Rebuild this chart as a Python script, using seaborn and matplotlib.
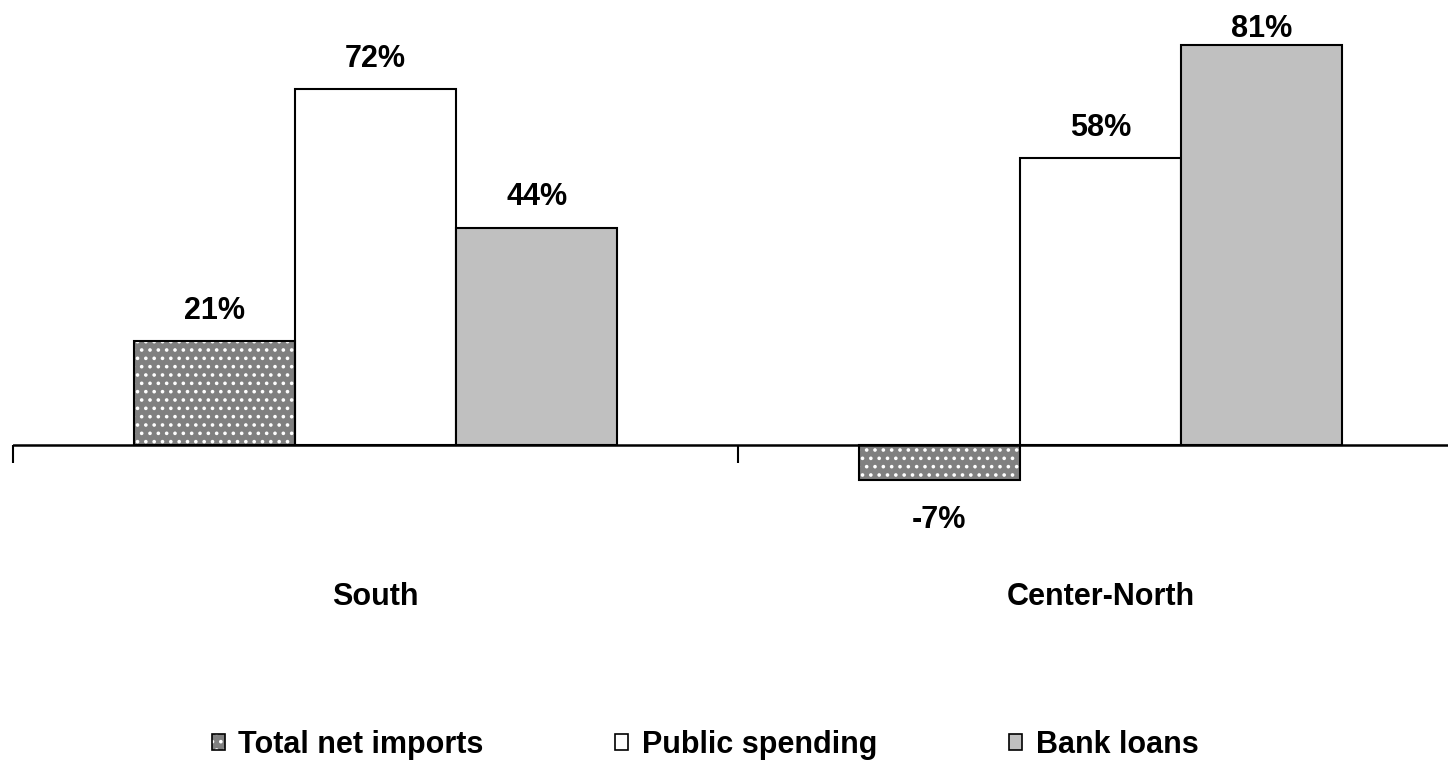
import matplotlib
matplotlib.use("Agg")
import matplotlib.pyplot as plt
import matplotlib.patches as mpatches
import seaborn as sns
import pandas as pd

regions = ["South", "Center-North"]
series = ["Total net imports", "Public spending", "Bank loans"]
total_net_imports = [21, -7]
public_spending = [72, 58]
bank_loans = [44, 81]
colors = ["#808080", "#FFFFFF", "#C0C0C0"]

rows = []
for s, vals in zip(series, [total_net_imports, public_spending, bank_loans]):
    for r, v in zip(regions, vals):
        rows.append({"region": r, "series": s, "value": v})
df = pd.DataFrame(rows)

sns.set_style("white")
plt.rcParams["font.family"] = ["Liberation Sans", "DejaVu Sans"]
plt.rcParams["font.weight"] = "bold"
plt.rcParams["text.color"] = "black"
plt.rcParams["hatch.linewidth"] = 1.4

W, H, DPI = 1448, 763, 100
fig = plt.figure(figsize=(W / DPI, H / DPI), dpi=DPI)
ax = fig.add_axes([13 / W, 1 - 574 / H, 1450 / W, 574 / H])

sns.barplot(data=df, x="region", y="value", hue="series", order=regions,
            hue_order=series, palette=colors, width=0.667, gap=0,
            edgecolor="black", linewidth=1.5, legend=False, ax=ax, zorder=2)

# dotted pattern on first series: white dots over gray, then black outline
for p in ax.containers[0]:
    p.set_hatch("..")
    p.set_edgecolor("white")
    p.set_linewidth(0)
    ax.add_patch(mpatches.Rectangle(p.get_xy(), p.get_width(), p.get_height(),
                                    fill=False, edgecolor="black",
                                    linewidth=1.5, zorder=3))

labels = []
for c in ax.containers:
    texts = ax.bar_label(c, labels=[f"{int(v)}%" for v in c.datavalues],
                         padding=11, fontsize=22, fontweight="bold",
                         color="black")
    for t, v in zip(texts, c.datavalues):
        if v < 0:
            dx, dy = t.xyann
            t.xyann = (dx, dy - 7)
    labels += texts

ax.set_xlim(-0.5, 1.5)
ax.set_ylim(-26, 90)
for s in ["top", "right", "left", "bottom"]:
    ax.spines[s].set_visible(False)
ax.set_yticks([])
ax.set_xlabel("")
ax.set_ylabel("")
ax.tick_params(axis="x", length=0, pad=6, labelsize=22, labelcolor="black")
for lab in ax.get_xticklabels():
    lab.set_fontweight("bold")

ax.axhline(0, color="black", linewidth=1.8, zorder=4)
sec = ax.secondary_xaxis(0, transform=ax.transData)
sec.set_xticks([-0.5, 0.5, 1.5])
sec.set_xticklabels([])
sec.tick_params(axis="x", length=13, width=1.5, direction="out", color="black")
sec.spines["bottom"].set_visible(False)

handles = [
    (mpatches.Patch(facecolor=colors[0], hatch="..", edgecolor="white", linewidth=0),
     mpatches.Patch(fill=False, edgecolor="black", linewidth=1.2)),
    mpatches.Patch(facecolor=colors[1], edgecolor="black", linewidth=1.2),
    mpatches.Patch(facecolor=colors[2], edgecolor="black", linewidth=1.2),
]
fig.legend(handles, series, loc="center left",
           bbox_to_anchor=(184 / W, 1 - 745 / H), ncol=3, frameon=False,
           handlelength=0.43, handleheight=0.43, handletextpad=0.45,
           columnspacing=4.3, prop={"size": 22, "weight": "bold"})

# keep value labels inside the figure (like the chart area does)
fig.canvas.draw()
renderer = fig.canvas.get_renderer()
for t in labels:
    bb = t.get_window_extent(renderer)
    limit = H - 14
    if bb.y1 > limit:
        dx, dy = t.xyann
        t.xyann = (dx, dy - (bb.y1 - limit) * 72 / DPI)

fig.savefig("out.png", dpi=DPI)
